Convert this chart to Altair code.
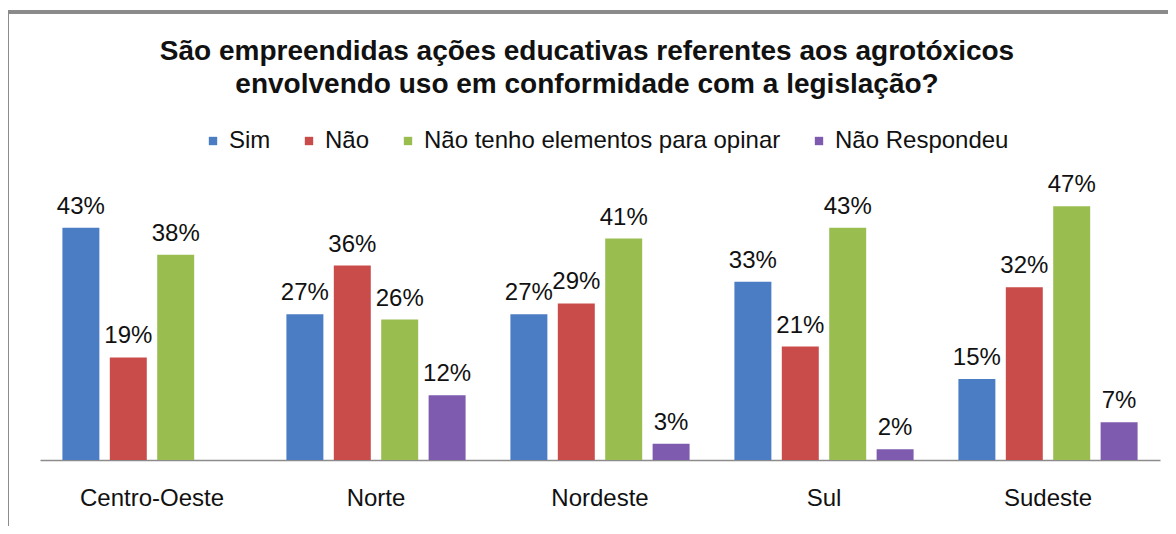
import altair as alt
import pandas as pd

regions = ["Centro-Oeste", "Norte", "Nordeste", "Sul", "Sudeste"]
series = ["Sim", "Não", "Não tenho elementos para opinar", "Não Respondeu"]
sim = [43, 27, 27, 33, 15]
nao = [19, 36, 29, 21, 32]
nao_tenho = [38, 26, 41, 43, 47]
nao_resp = [None, 12, 3, 2, 7]
colors = ["#4A7DC4", "#C94C4A", "#9ABD50", "#7E5BAE"]

rows = []
for s, vals in zip(series, [sim, nao, nao_tenho, nao_resp]):
    for r, v in zip(regions, vals):
        if v is not None:
            rows.append({"regiao": r, "serie": s, "valor": v, "rotulo": f"{v}%"})
df = pd.DataFrame(rows)

FONT = "Liberation Sans"

base = alt.Chart(df).encode(
    x=alt.X("regiao:N", sort=regions, title=None,
            scale=alt.Scale(paddingInner=0.2, paddingOuter=0.1),
            axis=alt.Axis(labelAngle=0, labelFontSize=24, labelFont=FONT,
                          labelColor="#111", ticks=False, domainColor="#8c8c8c",
                          domainWidth=1.5, labelPadding=26)),
    xOffset=alt.XOffset("serie:N", sort=series,
                        scale=alt.Scale(paddingInner=0.22)),
)

bars = base.mark_bar().encode(
    y=alt.Y("valor:Q", scale=alt.Scale(domain=[0, 50]), axis=None),
    color=alt.Color("serie:N", sort=series,
                    scale=alt.Scale(domain=series, range=colors),
                    legend=alt.Legend(title=None, orient="none", direction="horizontal",
                                      legendX=161, legendY=-61,
                                      symbolType="square", symbolSize=70,
                                      symbolStrokeWidth=0, labelLimit=0,
                                      labelFontSize=24, labelFont=FONT,
                                      labelColor="#111", columnPadding=26,
                                      labelOffset=4)),
)

labels = base.mark_text(baseline="bottom", dy=-9, fontSize=24, font=FONT,
                        color="#111").encode(
    y=alt.Y("valor:Q"),
    text="rotulo:N",
)

frame_top = alt.Chart(df).mark_rule(color="#8a8a8a", strokeWidth=2.5, clip=False).encode(
    x=alt.value(-33), x2=alt.value(1140), y=alt.value(-178)
)
frame_left = alt.Chart(df).mark_rule(color="#8a8a8a", strokeWidth=2.5, clip=False).encode(
    x=alt.value(-33), y=alt.value(-178), y2=alt.value(350)
)

chart = alt.layer(bars, labels, frame_top, frame_left).properties(
    width=1120, height=270,
    autosize=alt.AutoSizeParams(type="none"),
    padding={"left": 32, "top": 182, "right": 8, "bottom": 66},
    background="white",
    title=alt.TitleParams(
        text=["São empreendidas ações educativas referentes aos agrotóxicos",
              "envolvendo uso em conformidade com a legislação?"],
        fontSize=28, font=FONT, fontWeight="bold", color="#111",
        anchor="middle", frame="group", offset=-88, dx=-13, lineHeight=33,
    ),
).configure_view(strokeWidth=0)

chart.save("out.html", embed_options={"renderer": "svg", "actions": False})
